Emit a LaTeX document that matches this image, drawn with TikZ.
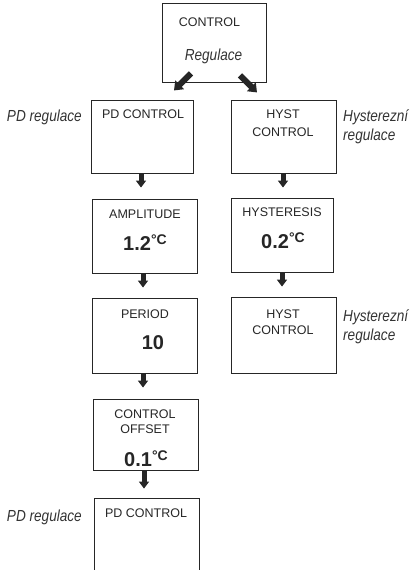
\documentclass[tikz,border=0pt]{standalone}
\usepackage{fontspec}
\setmainfont{Liberation Sans}
\usetikzlibrary{arrows.meta}
\tikzset{
  box/.style={draw=black!85, line width=0.9pt, rectangle, inner sep=0pt},
  btxt/.style={anchor=base, font=\fontsize{12.5}{14}\selectfont, text=black!85, inner sep=0pt},
  ital/.style={anchor=base, font=\fontsize{16}{18}\selectfont\itshape, text=black!80, inner sep=0pt},
  num/.style={anchor=base, font=\fontsize{20}{22}\selectfont\bfseries, text=black!85, inner sep=0pt},
  fat/.style={line width=5pt, draw=black!85, -{Triangle[width=10pt,length=7pt]}},
}
\newcommand{\degc}{\raisebox{6pt}{\fontsize{14}{16}\selectfont\bfseries °C}}
\newcommand{\cond}[1]{\scalebox{0.85}[1]{#1}}
\begin{document}
\begin{tikzpicture}[x=1pt,y=-1pt]
\useasboundingbox (0,0) rectangle (411,570);
\clip (0,0) rectangle (411,570);
% boxes
\node[box, minimum width=104pt, minimum height=79pt] (top) at (214,42.5) {};
\node[box, minimum width=102pt, minimum height=73pt] (pd1) at (142,136.5) {};
\node[box, minimum width=105pt, minimum height=73pt] (hc1) at (283.5,136.5) {};
\node[box, minimum width=105pt, minimum height=74pt] (amp) at (144.5,236) {};
\node[box, minimum width=102pt, minimum height=74pt] (hys) at (282,235) {};
\node[box, minimum width=105pt, minimum height=75pt] (per) at (144.5,335.5) {};
\node[box, minimum width=105pt, minimum height=76pt] (hc2) at (283.5,335) {};
\node[box, minimum width=105pt, minimum height=71pt] (off) at (145.5,434.5) {};
\node[box, minimum width=105pt, minimum height=120pt] (pd2) at (146.5,558) {};
% box texts
\node[btxt] (t1) at (209.5,27) {CONTROL};
\node[ital] (t2) at (213.5,60) {\cond{Regulace}};
\node[btxt] (t3) at (143,118) {PD CONTROL};
\node[btxt] (t4) at (283,118) {HYST};
\node[btxt] (t5) at (283,136) {CONTROL};
\node[btxt] (t6) at (145,218) {AMPLITUDE};
\node[num] (t7) at (145,250) {1.2\degc};
\node[btxt] (t8) at (282,216) {HYSTERESIS};
\node[num] (t9) at (283,248) {0.2\degc};
\node[btxt] (t10) at (145,318) {PERIOD};
\node[num] (t11) at (153,349) {10};
\node[btxt] (t12) at (283,318) {HYST};
\node[btxt] (t13) at (283,334) {CONTROL};
\node[btxt] (t14) at (145,418) {CONTROL};
\node[btxt] (t15) at (145,433) {OFFSET};
\node[num] (t16) at (146,466) {0.1\degc};
\node[btxt] (t17) at (146,517) {PD CONTROL};
% side labels
\node[ital, anchor=base east] (l1) at (82,121) {\cond{PD regulace}};
\node[ital, anchor=base west] (l2) at (343,121) {\cond{Hysterezní}};
\node[ital, anchor=base west] (l3) at (343,140) {\cond{regulace}};
\node[ital, anchor=base west] (l4) at (343,321) {\cond{Hysterezní}};
\node[ital, anchor=base west] (l5) at (343,340) {\cond{regulace}};
\node[ital, anchor=base east] (l6) at (82,521) {\cond{PD regulace}};
% arrows
\draw[fat, line width=6pt, -{Triangle[width=12pt,length=8pt]}] ([xshift=-23pt,yshift=9pt]top.south) -- ([xshift=-40pt,yshift=-8pt]top.south);
\draw[fat, line width=6pt, -{Triangle[width=12pt,length=8pt]}] ([xshift=26pt,yshift=7pt]top.south) -- ([xshift=43pt,yshift=-10pt]top.south);
\draw[fat] ([xshift=-1pt]pd1.south) -- ([xshift=-1pt,yshift=11pt]pd1.south |- amp.north);
\draw[fat] ([xshift=-0.5pt]hc1.south) -- ([xshift=-0.5pt,yshift=10pt]hc1.south |- hys.north);
\draw[fat] ([xshift=-1.5pt]amp.south) -- ([xshift=-1.5pt,yshift=10pt]amp.south |- per.north);
\draw[fat] (hys.south) -- ([yshift=10pt]hys.south |- hc2.north);
\draw[fat] ([xshift=-1.5pt]per.south) -- ([xshift=-1.5pt,yshift=11pt]per.south |- off.north);
\draw[fat] ([xshift=-1.5pt]off.south) -- ([xshift=-1.5pt,yshift=9pt]off.south |- pd2.north);
\end{tikzpicture}
\end{document}
